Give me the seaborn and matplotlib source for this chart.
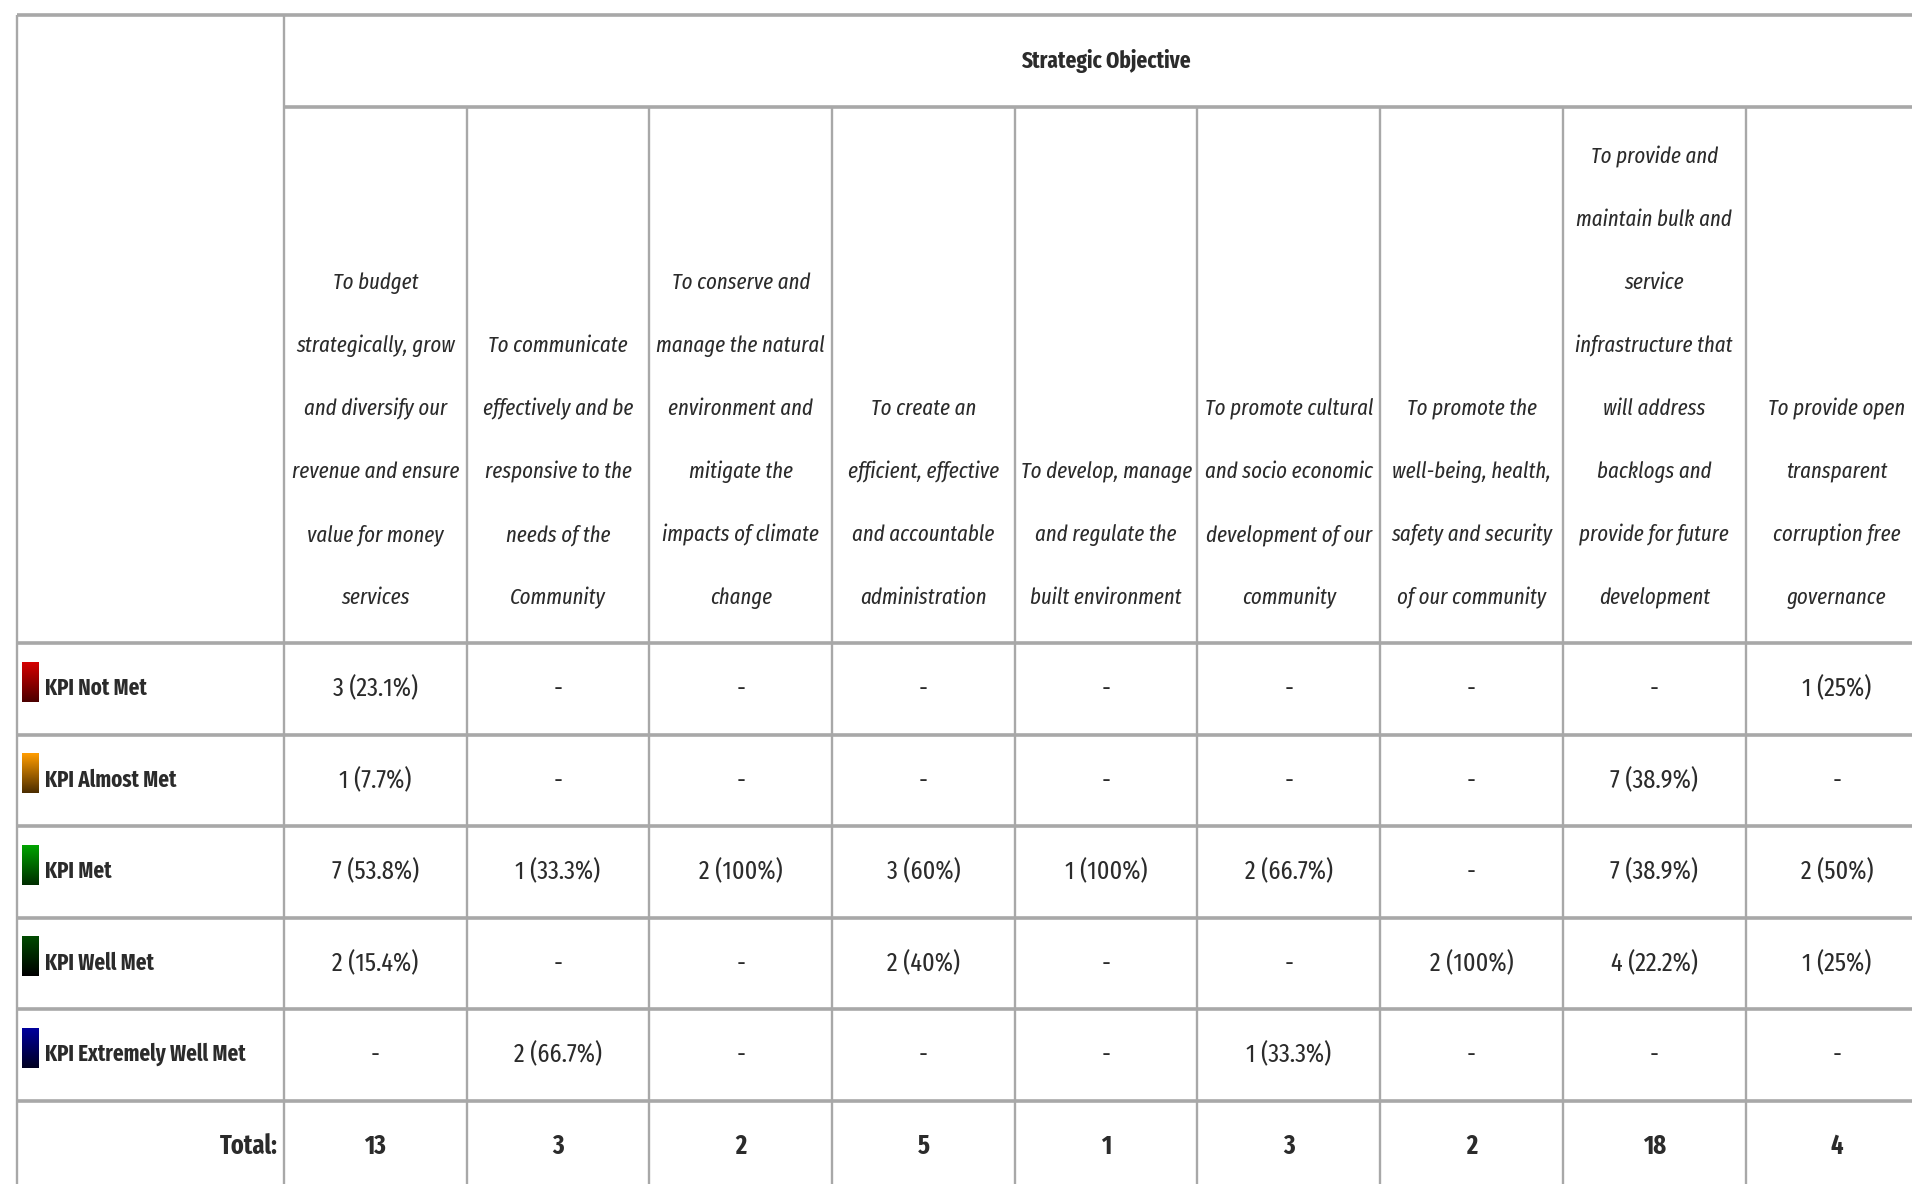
import numpy as np
import matplotlib
matplotlib.use('Agg')
import matplotlib.pyplot as plt
import seaborn as sns
from matplotlib.colors import ListedColormap, to_rgb

objectives = [
    'To budget\nstrategically, grow\nand diversify our\nrevenue and ensure\nvalue for money\nservices',
    'To communicate\neffectively and be\nresponsive to the\nneeds of the\nCommunity',
    'To conserve and\nmanage the natural\nenvironment and\nmitigate the\nimpacts of climate\nchange',
    'To create an\nefficient, effective\nand accountable\nadministration',
    'To develop, manage\nand regulate the\nbuilt environment',
    'To promote cultural\nand socio economic\ndevelopment of our\ncommunity',
    'To promote the\nwell-being, health,\nsafety and security\nof our community',
    'To provide and\nmaintain bulk and\nservice\ninfrastructure that\nwill address\nbacklogs and\nprovide for future\ndevelopment',
    'To provide open\ntransparent\ncorruption free\ngovernance',
]
statuses = ['KPI Not Met', 'KPI Almost Met', 'KPI Met', 'KPI Well Met', 'KPI Extremely Well Met']
not_met = [3, 0, 0, 0, 0, 0, 0, 0, 1]
almost_met = [1, 0, 0, 0, 0, 0, 0, 7, 0]
met = [7, 1, 2, 3, 1, 2, 0, 7, 2]
well_met = [2, 0, 0, 2, 0, 0, 2, 4, 1]
extremely_well_met = [0, 2, 0, 0, 0, 1, 0, 0, 0]
totals = [13, 3, 2, 5, 1, 3, 2, 18, 4]
status_top = ['#d40000', '#ff9c00', '#00a300', '#004a00', '#00009c']
status_bottom = ['#4d0000', '#4d2e00', '#002e00', '#000000', '#000022']

counts = np.array([not_met, almost_met, met, well_met, extremely_well_met])


def cell_label(c, t):
    if c == 0:
        return '-'
    p = f'{100 * c / t:.1f}'
    if p.endswith('.0'):
        p = p[:-2]
    return f'{c} ({p}%)'


labels = [[cell_label(c, t) for c, t in zip(row, totals)] for row in counts]
labels.append([str(t) for t in totals])
labels = np.array(labels)

sns.set_theme(style='white')
FAM = ['Fira Sans Extra Condensed', 'DejaVu Sans']
plt.rcParams['font.family'] = FAM

W, H = 1912, 1184
X0, XL, CW = 17, 284, 182.7
Y_TOP, Y_SO, Y_HDR, RH = 15, 107, 643, 91.5
XR = XL + 9 * CW
LINE = '#a8a8a8'
TXT = '#2b2b2b'

fig = plt.figure(figsize=(W / 100, H / 100), dpi=100)
fig.patch.set_facecolor('white')

# body cells via heatmap
hm_ax = fig.add_axes([XL / W, 1 - (Y_HDR + 6 * RH) / H, 9 * CW / W, 6 * RH / H])
sns.heatmap(np.zeros(labels.shape), ax=hm_ax, cmap=ListedColormap(['white']),
            cbar=False, annot=labels, fmt='', linewidths=0,
            xticklabels=False, yticklabels=False,
            annot_kws={'fontsize': 19, 'color': TXT, 'family': FAM})
for t in hm_ax.texts[-9:]:
    t.set_fontweight('bold')
    t.set_fontsize(19)

ax = fig.add_axes([0, 0, 1, 1], zorder=3)
ax.set_facecolor('none')
ax.set_xlim(0, W)
ax.set_ylim(H, 0)
ax.axis('off')

# grid lines
ax.hlines(Y_TOP, X0, XR, color=LINE, lw=2.6)
ax.hlines(Y_SO, XL, XR, color=LINE, lw=2.6)
for k in range(6):
    ax.hlines(Y_HDR + k * RH, X0, XR, color=LINE, lw=2.6)
ax.vlines([X0, XL], Y_TOP, H, color=LINE, lw=1.7)
for i in range(1, 9):
    ax.vlines(XL + i * CW, Y_SO, H, color=LINE, lw=1.7)

ax.text((XL + XR) / 2, 61, 'Strategic Objective', ha='center', va='center',
        fontsize=16.7, fontweight='bold', color=TXT)

for i, obj in enumerate(objectives):
    lines = obj.split('\n')
    n = len(lines)
    cx = XL + (i + 0.5) * CW
    for k, line in enumerate(lines):
        ax.text(cx, 598 - 63 * (n - 1 - k), line, ha='center', va='center',
                fontsize=16.3, style='italic', color=TXT)

for r, name in enumerate(statuses):
    rc = Y_HDR + (r + 0.5) * RH
    ax.text(45, rc, name, ha='left', va='center', fontsize=16.3,
            fontweight='bold', color=TXT)
    grad = np.linspace(to_rgb(status_top[r]), to_rgb(status_bottom[r]), 40)
    ax.imshow(grad[:, None, :].repeat(2, axis=1), extent=(22, 39, rc + 13, rc - 27),
              aspect='auto', interpolation='bilinear', zorder=4)

ax.text(278, Y_HDR + 5.5 * RH, 'Total:', ha='right', va='center', fontsize=19,
        fontweight='bold', color=TXT)

ax.set_xlim(0, W)
ax.set_ylim(H, 0)

fig.savefig('out.png', dpi=100)
